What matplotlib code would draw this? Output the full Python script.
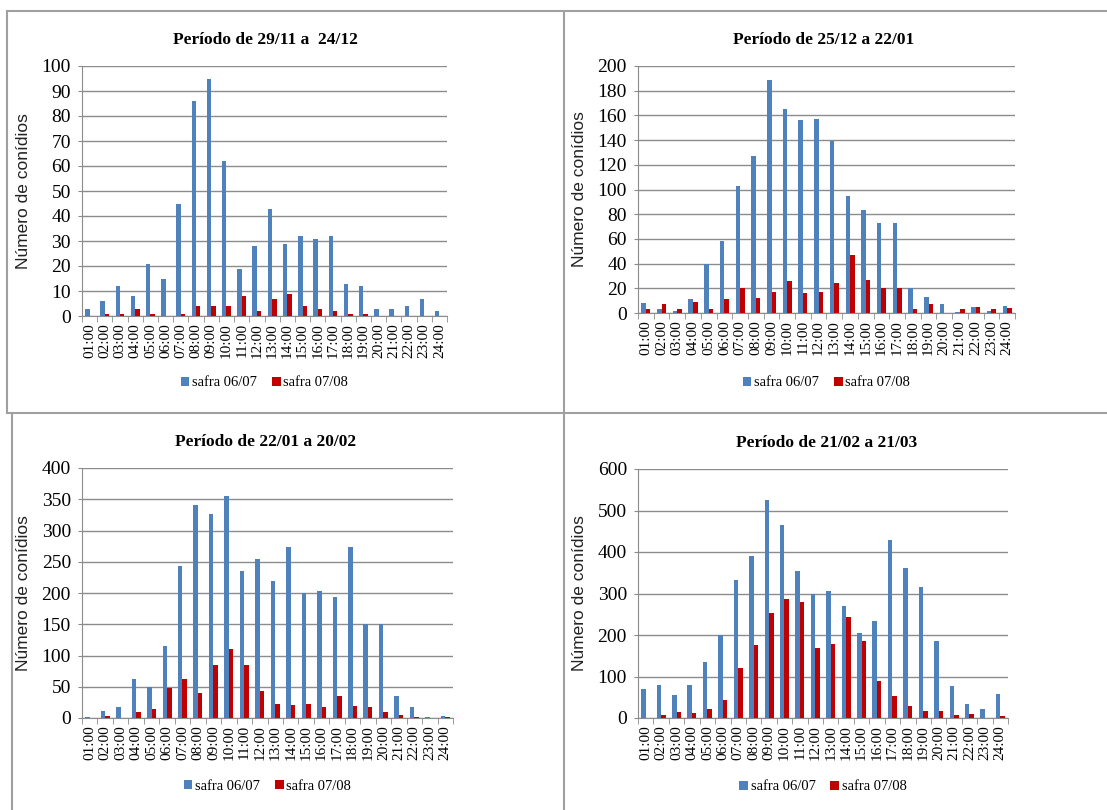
import matplotlib.pyplot as plt
import numpy as np

hours = ['%02d:00' % h for h in range(1, 25)]

# Período de 29/11 a 24/12
p1_0607 = [3, 6, 12, 8, 21, 15, 45, 86, 95, 62, 19, 28, 43, 29, 32, 31, 32, 13, 12, 3, 3, 4, 7, 2]
p1_0708 = [0, 1, 1, 3, 1, 0, 1, 4, 4, 4, 8, 2, 7, 9, 4, 3, 2, 1, 1, 0, 0, 0, 0, 0]

# Período de 25/12 a 22/01
p2_0607 = [8, 3, 2, 11, 40, 58, 103, 127, 189, 165, 156, 157, 139, 95, 83, 73, 73, 20, 13, 7, 1, 5, 2, 6]
p2_0708 = [3, 7, 3, 9, 3, 11, 20, 12, 17, 26, 16, 17, 24, 47, 27, 20, 20, 3, 7, 0, 3, 5, 3, 4]

# Período de 22/01 a 20/02
p3_0607 = [2, 12, 17, 62, 50, 115, 243, 341, 326, 355, 235, 255, 219, 273, 200, 203, 193, 273, 150, 150, 35, 17, 2, 3]
p3_0708 = [0, 3, 0, 10, 15, 48, 62, 40, 85, 110, 85, 44, 23, 21, 23, 17, 35, 19, 17, 10, 5, 2, 0, 2]

# Período de 21/02 a 21/03
p4_0607 = [70, 80, 56, 80, 135, 200, 332, 390, 525, 465, 355, 300, 305, 270, 205, 233, 430, 362, 315, 185, 77, 33, 22, 57]
p4_0708 = [0, 7, 15, 12, 22, 43, 120, 175, 253, 287, 280, 168, 178, 243, 185, 90, 53, 29, 18, 18, 7, 10, 0, 4]

titles = ['Período de 29/11 a  24/12', 'Período de 25/12 a 22/01',
          'Período de 22/01 a 20/02', 'Período de 21/02 a 21/03']
series = [(p1_0607, p1_0708), (p2_0607, p2_0708), (p3_0607, p3_0708), (p4_0607, p4_0708)]
ymax = [100, 200, 400, 600]
ystep = [10, 20, 50, 100]

W, H = 1107, 810
fig = plt.figure(figsize=(W / 100, H / 100), dpi=100)

# pixel boxes (left, right, top, bottom) of each plot area
boxes = [(82, 447, 66, 316), (638, 1015, 66, 313), (82, 453, 468, 718), (638, 1008, 469, 718)]
title_pos = [(265, 40), (824, 40), (266, 442), (827, 443)]
ylabel_x = [31, 587, 31, 587]
legend_y = [383, 383, 786, 787]

blue = '#4F81BD'
red = '#C00000'
grid_c = '#8C8C8C'
serif = 'Liberation Serif'
sans = 'Liberation Sans'

# panel frame lines
frame = fig.add_axes([0, 0, 1, 1], zorder=-1)
frame.set_xlim(0, W)
frame.set_ylim(H, 0)
frame.axis('off')
lc = '#A0A0A0'
frame.plot([7, W], [11, 11], color=lc, lw=1.5)
frame.plot([7, 7], [11, 413], color=lc, lw=1.5)
frame.plot([12, 12], [413, H], color=lc, lw=1.5)
frame.plot([564, 564], [11, H], color=lc, lw=1.5)
frame.plot([7, W], [413, 413], color=lc, lw=1.5)

x = np.arange(24)
bw = 0.29
for i in range(4):
    l, r, t, b = boxes[i]
    ax = fig.add_axes([l / W, 1 - b / H, (r - l) / W, (b - t) / H])
    s1, s2 = series[i]
    ax.bar(x - bw / 2, s1, bw, color=blue, zorder=3, label='safra 06/07')
    ax.bar(x + bw / 2, s2, bw, color=red, zorder=3, label='safra 07/08')
    ax.set_xlim(-0.5, 23.5)
    ax.set_ylim(0, ymax[i])
    ax.set_yticks(np.arange(0, ymax[i] + 1, ystep[i]))
    ax.grid(axis='y', color=grid_c, lw=1, zorder=0)
    ax.set_xticks(x)
    ax.set_xticklabels(hours, rotation=90, fontsize=11, family=serif)
    ax.set_xticks(np.arange(-0.5, 24, 1), minor=True)
    ax.tick_params(axis='x', which='major', length=0, pad=5)
    ax.tick_params(axis='x', which='minor', length=4, color=grid_c)
    ax.tick_params(axis='y', length=3, color=grid_c, labelsize=14, pad=5)
    for lab in ax.get_yticklabels():
        lab.set_family(serif)
    for sp in ['top', 'right']:
        ax.spines[sp].set_visible(False)
    for sp in ['left', 'bottom']:
        ax.spines[sp].set_color(grid_c)
    ax.set_ylabel('Número de conídios', family=sans, fontsize=12.5, color='#222222')
    ax.yaxis.set_label_coords((ylabel_x[i] - l) / (r - l), 0.5)
    tx, ty = title_pos[i]
    fig.text(tx / W, 1 - ty / H, titles[i], family=serif, weight='bold',
             fontsize=12.5, ha='center', va='center')
    ax.legend(loc='center', bbox_to_anchor=(((l + r) / 2) / W, 1 - legend_y[i] / H),
              bbox_transform=fig.transFigure, ncol=2, frameon=False,
              prop={'family': serif, 'size': 10.5}, handlelength=0.6,
              handleheight=0.6, handletextpad=0.2, columnspacing=1.0)

fig.savefig('out.png', dpi=100)
